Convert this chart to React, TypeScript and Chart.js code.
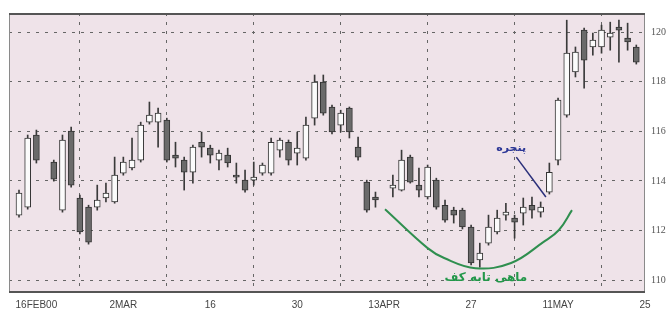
import React, { useEffect, useRef } from "react";
import { Chart, registerables } from "chart.js";
Chart.register(...registerables);

// trading-day slot index (gaps = no trading)
const slots = [0, 1, 2, 4, 5, 6, 7, 8, 9, 10, 11, 12, 13, 14, 15, 16, 17, 18, 19, 20, 21, 22, 23, 24, 25, 26, 27, 28, 29, 30, 31, 32, 33, 34, 35, 36, 37, 38, 39, 40, 41, 43, 44, 45, 46, 47, 48, 49, 50, 51, 52, 53, 54, 55, 56, 57, 58, 59, 60, 61, 62, 63, 64, 65, 66, 67, 68, 69, 70, 71];
const opens = [112.62, 112.94, 115.85, 114.76, 112.82, 116.01, 113.31, 112.94, 112.94, 113.31, 113.15, 114.31, 114.52, 114.84, 116.37, 116.37, 116.45, 115.04, 114.84, 114.35, 115.56, 115.32, 114.84, 115.04, 114.23, 114.03, 114.03, 114.31, 114.31, 115.24, 115.56, 115.12, 114.92, 116.53, 117.98, 116.98, 116.25, 116.94, 115.36, 113.95, 113.35, 113.71, 113.63, 114.96, 113.83, 113.35, 114.03, 113.02, 112.82, 112.82, 112.14, 110.81, 111.49, 111.94, 112.62, 112.5, 112.7, 113.02, 112.74, 113.55, 114.84, 116.65, 118.39, 120.08, 119.4, 119.4, 119.8, 120.2, 119.76, 119.4];
const highs = [113.63, 115.85, 116.05, 114.84, 115.85, 116.17, 113.43, 113.02, 113.83, 113.91, 114.96, 114.96, 115.73, 116.37, 117.18, 116.94, 116.53, 115.56, 114.96, 115.44, 115.97, 115.44, 115.24, 115.32, 114.72, 114.44, 114.76, 114.72, 115.73, 115.73, 115.65, 115.97, 116.57, 118.27, 118.27, 117.06, 116.85, 116.98, 115.77, 114.03, 113.55, 114.23, 115.24, 115.04, 114.52, 114.64, 114.11, 113.23, 112.94, 112.9, 112.22, 111.49, 112.62, 112.82, 113.1, 112.62, 113.31, 113.35, 113.15, 114.72, 117.34, 120.48, 119.4, 120.16, 119.96, 120.28, 120.4, 120.48, 120.36, 119.48];
const lows = [112.54, 112.86, 114.72, 113.99, 112.74, 113.75, 111.86, 111.45, 112.82, 113.15, 113.1, 114.23, 114.44, 114.76, 116.29, 115.36, 114.76, 114.56, 113.63, 113.91, 114.96, 114.72, 114.44, 114.56, 113.91, 113.55, 113.83, 114.23, 114.23, 114.96, 114.64, 114.64, 114.84, 116.25, 116.65, 115.89, 115.97, 115.73, 114.84, 112.74, 112.94, 113.35, 113.59, 113.91, 113.35, 113.27, 112.86, 112.34, 112.3, 112.06, 110.61, 110.52, 111.41, 111.86, 112.42, 111.69, 112.22, 112.5, 112.54, 113.47, 114.64, 116.57, 118.19, 117.74, 119.07, 119.15, 119.27, 118.79, 119.27, 118.71];
const closes = [113.51, 115.73, 114.84, 114.07, 115.65, 113.83, 111.94, 111.53, 113.23, 113.51, 114.23, 114.76, 114.84, 116.25, 116.65, 116.73, 114.84, 114.92, 114.35, 115.36, 115.36, 115.04, 115.12, 114.72, 114.15, 113.63, 114.15, 114.64, 115.56, 115.65, 114.84, 115.32, 116.25, 117.98, 116.73, 115.97, 116.73, 115.97, 114.96, 112.82, 113.23, 113.83, 114.84, 113.95, 113.63, 114.56, 112.94, 112.42, 112.62, 112.14, 110.69, 111.09, 112.14, 112.5, 112.74, 112.34, 112.94, 112.82, 112.94, 114.35, 117.26, 119.15, 119.19, 118.87, 119.68, 120.08, 119.96, 120.08, 119.6, 118.79];

const xTickSlots = [2, 12, 22, 32, 42, 52, 62, 72];
const xTickLabels = ["16FEB00", "2MAR", "16", "30", "13APR", "27", "11MAY", "25"];
const yTicks = [110, 112, 114, 116, 118, 120];

// "frying pan" bottom curve
const curveSlots = [42.1, 47.0, 48.9, 52.5, 56.6, 60.3, 62.1, 63.6];
const curveValues = [112.86, 111.29, 110.89, 110.48, 110.69, 111.53, 112.02, 112.82];
// pointer to the "window" (gap)
const pointerSlots = [57.2, 60.6];
const pointerValues = [114.96, 113.35];

const windowLabel = "پنجره";
const windowLabelAt = [56.6, 115.32];
const panLabel = "ماهی تابه کف";
const panLabelAt = [53.7, 110.08];

export default function App() {
  const ref = useRef<HTMLCanvasElement>(null);
  useEffect(() => {
    const canvas = ref.current!;
    const up = slots.map((_, i) => closes[i] >= opens[i]);
    const overlay = {
      id: "overlay",
      beforeDraw(chart: any) {
        const { ctx, chartArea: a } = chart;
        ctx.save();
        ctx.fillStyle = "#ffffff";
        ctx.fillRect(0, 0, chart.width, chart.height);
        ctx.fillStyle = "#efe3e9";
        ctx.fillRect(a.left, a.top, a.right - a.left, a.bottom - a.top);
        ctx.restore();
      },
      afterDatasetsDraw(chart: any) {
        const { ctx, chartArea: a } = chart;
        const xs = chart.scales.x;
        const ys = chart.scales.y;
        ctx.save();
        ctx.strokeStyle = "#8a8a8a";
        ctx.lineWidth = 1;
        ctx.beginPath();
        ctx.moveTo(a.left + 0.5, a.top);
        ctx.lineTo(a.left + 0.5, a.bottom);
        ctx.moveTo(a.right - 0.5, a.top);
        ctx.lineTo(a.right - 0.5, a.bottom);
        ctx.stroke();
        ctx.strokeStyle = "#555";
        ctx.lineWidth = 2;
        ctx.beginPath();
        ctx.moveTo(a.left, a.top + 1);
        ctx.lineTo(a.right, a.top + 1);
        ctx.moveTo(a.left, a.bottom - 1);
        ctx.lineTo(a.right, a.bottom - 1);
        ctx.stroke();

        ctx.textAlign = "center";
        ctx.textBaseline = "middle";
        ctx.font = 'bold 11px "DejaVu Sans"';
        ctx.fillStyle = "#2c3796";
        ctx.fillText(windowLabel, xs.getPixelForValue(windowLabelAt[0]), ys.getPixelForValue(windowLabelAt[1]));
        ctx.font = 'bold 12px "DejaVu Sans"';
        ctx.fillStyle = "#23974a";
        ctx.fillText(panLabel, xs.getPixelForValue(panLabelAt[0]), ys.getPixelForValue(panLabelAt[1]));
        ctx.restore();
      },
    };

    const chart = new Chart(canvas, {
      type: "bar",
      data: {
        datasets: [
          {
            type: "bar",
            label: "wick",
            data: slots.map((s, i) => ({ x: s, y: [lows[i], highs[i]] })) as any,
            backgroundColor: "#3a3a3a",
            borderWidth: 0,
            barThickness: 1,
            grouped: false,
            order: 3,
          } as any,
          {
            type: "bar",
            label: "body",
            data: slots.map((s, i) => ({ x: s, y: [opens[i], closes[i]] })) as any,
            backgroundColor: up.map((u) => (u ? "#fbfbfb" : "#6a6a6a")),
            borderColor: "#333",
            borderWidth: 1,
            borderSkipped: false,
            barThickness: 6,
            grouped: false,
            order: 2,
          } as any,
          {
            type: "line",
            label: "curve",
            data: curveSlots.map((s, i) => ({ x: s, y: curveValues[i] })),
            borderColor: "#2f8f4f",
            borderWidth: 2,
            pointRadius: 0,
            tension: 0.4,
            order: 1,
          } as any,
          {
            type: "line",
            label: "pointer",
            data: pointerSlots.map((s, i) => ({ x: s, y: pointerValues[i] })),
            borderColor: "#2a2f7a",
            borderWidth: 1.5,
            pointRadius: 0,
            order: 1,
          } as any,
        ],
      },
      options: {
        responsive: false,
        animation: false,
        layout: { padding: { left: 9, top: 13, right: 0, bottom: 0 } },
        plugins: { legend: { display: false }, tooltip: { enabled: false } },
        scales: {
          x: {
            type: "linear",
            min: -1.15,
            max: 72,
            offset: false,
            afterBuildTicks: (s: any) => {
              s.ticks = xTickSlots.map((v) => ({ value: v }));
            },
            afterFit: (s: any) => {
              s.height = 16;
            },
            ticks: {
              autoSkip: false,
              maxRotation: 0,
              padding: 6,
              color: "#444",
              font: { size: 10, family: "Liberation Sans" },
              callback: (v: any) => {
                const i = xTickSlots.indexOf(Number(v));
                return i >= 0 ? xTickLabels[i] : "";
              },
            },
            grid: { color: "#666", drawTicks: false, lineWidth: 1 },
            border: { display: false, dash: [3, 6] },
          },
          y: {
            type: "linear",
            position: "right",
            min: 109.48,
            max: 120.77,
            afterBuildTicks: (s: any) => {
              s.ticks = yTicks.map((v) => ({ value: v }));
            },
            afterFit: (s: any) => {
              s.width = 21;
            },
            ticks: {
              padding: 6,
              color: "#555",
              font: { size: 10, family: "Liberation Serif" },
              callback: (v: any) => String(v),
            },
            grid: { color: "#666", drawTicks: false, lineWidth: 1 },
            border: { display: false, dash: [3, 6] },
          },
        },
      } as any,
      plugins: [overlay],
    });
    return () => chart.destroy();
  }, []);

  return (
    <div style={{ position: "absolute", left: 0, top: 0, width: 666, height: 309, overflow: "hidden", background: "#fff" }}>
      <canvas ref={ref} width={666} height={309} style={{ display: "block" }} />
    </div>
  );
}
